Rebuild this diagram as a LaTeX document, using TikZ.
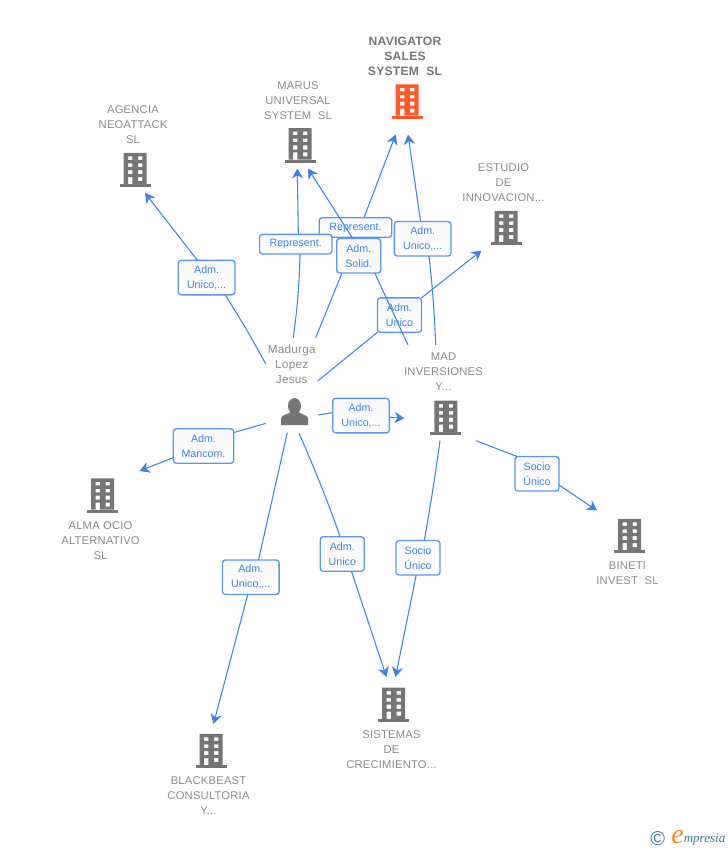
\documentclass[tikz,border=0pt]{standalone}
\usepackage{fontspec}
\setmainfont{Liberation Sans}
\newfontfamily\seriffont{Liberation Serif}
\newfontfamily\namefont[LetterSpace=2]{Liberation Sans}
\usetikzlibrary{arrows.meta,backgrounds}
\definecolor{linkblue}{HTML}{3F84E0}
\definecolor{boxblue}{HTML}{5C97E8}
\definecolor{iconGray}{HTML}{757575}
\definecolor{iconOrange}{HTML}{FF5A2C}
\definecolor{nameGray}{HTML}{8A8A8A}
\definecolor{logoBlue}{HTML}{3B7A93}
\definecolor{logoOrange}{HTML}{F58A1F}
\tikzset{
  link/.style={draw=linkblue, line width=0.8pt},
  linktip/.style={-{Stealth[length=7.5pt,width=8.5pt,inset=2.4pt]}},
  lbl/.style={draw=boxblue, line width=1pt, rounded corners=2.2pt, top color=black!3, bottom color=white,
    text=linkblue, font=\fontsize{8}{11.25}\selectfont, align=center, inner sep=0pt, outer sep=0pt, minimum height=25.9pt},
  lblone/.style={lbl, minimum height=14.7pt, minimum width=54.4pt},
  cname/.style={text=nameGray, font=\fontsize{8.4}{11.25}\namefont, align=center, inner sep=0pt},
  building/.style={minimum width=24pt, minimum height=27pt, inner sep=0pt, outer sep=0pt,
    path picture={
      \fill[#1, even odd rule] (-11.5,-17.2) rectangle (11.5,14.2)
        (-7,-13.6) rectangle (-2.6,-10.1) (3,-13.6) rectangle (7.4,-10.1)
        (-7,-6.7) rectangle (-2.6,-3.1) (3,-6.7) rectangle (7.4,-3.1)
        (-7,0) rectangle (-2.6,4.2) (3,0) rectangle (7.4,4.2)
        (-7,7) rectangle (-2.6,14.2) (3,7) rectangle (7.4,11);
      \fill[#1] (-15.5,14.2) rectangle (15.5,17.2);
    }},
  person/.style={minimum width=22pt, minimum height=22pt, inner sep=0pt, outer sep=0pt,
    path picture={
      \fill[iconGray] (0,-5.5) ellipse (6.5 and 8);
      \fill[iconGray] (-13.5,13.5) -- (-13.5,7) .. controls (-13.5,3.5) and (-7,3) .. (-4,0.5)
        -- (4,0.5) .. controls (7,3) and (13.5,3.5) .. (13.5,7) -- (13.5,13.5) -- cycle;
    }}
}
\begin{document}
\begin{tikzpicture}[x=0.75pt, y=-0.75pt]
  \useasboundingbox (0,0) rectangle (728,850);
  \node[building=iconOrange] (navigator) at (407,101.5) {};
  \node[building=iconGray] (marus) at (300,145.3) {};
  \node[building=iconGray] (agencia) at (135,170) {};
  \node[building=iconGray] (estudio) at (506,228) {};
  \node[building=iconGray] (mad) at (445.8,417.7) {};
  \node[building=iconGray] (alma) at (102.5,495.5) {};
  \node[building=iconGray] (bineti) at (629.5,536) {};
  \node[building=iconGray] (blackbeast) at (211,751) {};
  \node[building=iconGray] (sistemas) at (393.7,704.7) {};
  \node[person] (jesus) at (294.5,411.5) {};

  \node[cname, font=\fontsize{9.1}{11.25}\namefont\bfseries, text=iconGray] (navigatorname) at (405,56.3) {NAVIGATOR\\SALES\\SYSTEM\ \ SL};
  \node[cname] (marusname) at (298,100.2) {MARUS\\UNIVERSAL\\SYSTEM\ \ SL};
  \node[cname] (agencianame) at (133,124.7) {AGENCIA\\NEOATTACK\\SL};
  \node[cname] (estudioname) at (503.5,182.5) {ESTUDIO\\DE\\INNOVACION...};
  \node[cname, font=\fontsize{8.8}{11.25}\namefont] (jesusname) at (291.7,364) {Madurga\\Lopez\\Jesus};
  \node[cname] (madname) at (443.5,371.5) {MAD\\INVERSIONES\\Y...};
  \node[cname] (almaname) at (100.5,540.5) {ALMA OCIO\\ALTERNATIVO\\SL};
  \node[cname] (binetiname) at (627.5,573) {BINETI\\INVEST\ \ SL};
  \node[cname] (blackbeastname) at (208.5,795.5) {BLACKBEAST\\CONSULTORIA\\Y...};
  \node[cname] (sistemasname) at (391.5,749.5) {SISTEMAS\\DE\\CRECIMIENTO...};

  \node[lblone] (navrep) at (355.5,227.5) {Represent.};
  \node[lblone] (marusrep) at (295.7,244.2) {Represent.};
  \node[lbl, minimum width=33pt] (marussolid) at (358.7,255.8) {Adm.\\Solid.};
  \node[lbl, minimum width=42.5pt] (navunico) at (422.7,238.8) {Adm.\\Unico,...};
  \node[lbl, minimum width=33pt] (estudiounico) at (399.5,315.1) {Adm.\\Unico};
  \node[lbl, minimum width=42.5pt] (agenciaunico) at (206.6,277.6) {Adm.\\Unico,...};
  \node[lbl, minimum width=42.5pt] (madunico) at (361,415.6) {Adm.\\Unico,...};
  \node[lbl, minimum width=45.3pt] (almamancom) at (203.5,446) {Adm.\\Mancom.};
  \node[lbl, minimum width=42.5pt] (blackunico) at (250.8,577.2) {Adm.\\Unico,...};
  \node[lbl, minimum width=33pt] (sistunico) at (342.3,554) {Adm.\\Unico};
  \node[lbl, minimum width=33pt] (sistsocio) at (418,557.8) {Socio\\Único};
  \node[lbl, minimum width=33pt] (binetisocio) at (537,473.8) {Socio\\Único};

  \coordinate (agenciafrom) at (265.7,364);
  \coordinate (agenciato) at (145,193);
  \coordinate (marusfrom) at (293.3,337.7);
  \coordinate (marusto) at (297.3,168.5);
  \coordinate (navfrom) at (315.7,337.7);
  \coordinate (navto) at (395.7,134.5);
  \coordinate (solidfrom) at (408,345);
  \coordinate (solidto) at (308,168.5);
  \coordinate (unicofrom) at (435.7,345);
  \coordinate (unicoto) at (408,134.5);
  \coordinate (estudiofrom) at (317.7,381);
  \coordinate (estudioto) at (481.5,250.5);
  \coordinate (madfrom) at (318.3,415);
  \coordinate (madto) at (404.5,418.3);
  \coordinate (almafrom) at (266,423.3);
  \coordinate (almato) at (139.5,471);
  \coordinate (blackfrom) at (287.3,432.7);
  \coordinate (blackto) at (213.5,724);
  \coordinate (sistfrom) at (299,433.3);
  \coordinate (sistto) at (386.5,677);
  \coordinate (sociofrom) at (440,440.7);
  \coordinate (socioto) at (395.5,677);
  \coordinate (binetifrom) at (476,440.7);
  \coordinate (binetito) at (597,510.5);

  \begin{pgfonlayer}{background}
    \path[link] (navfrom) -- (navrep.-84);
    \path[link, linktip] (navrep.49) -- (navto);
  \end{pgfonlayer}
  \path[link] (agenciafrom) to[bend right=2] (agenciaunico.-43);
  \path[link, linktip] (agenciaunico.118) -- (agenciato);
  \path[link] (marusfrom) to[bend right=3] (marusrep.-66);
  \path[link, linktip] (marusrep.75) -- (marusto);
  \path[link] (solidfrom) -- (marussolid.-47);
  \path[link, linktip] (marussolid.109) -- (solidto);
  \path[link] (unicofrom) to[bend right=2] (navunico.-70);
  \path[link, linktip] (navunico.97) -- (unicoto);
  \path[link] (estudiofrom) -- (estudiounico.-142);
  \path[link, linktip] (estudiounico.38) -- (estudioto);
  \path[link] (madfrom) -- (madunico.174);
  \path[link, linktip] (madunico.-3) -- (madto);
  \path[link] (almafrom) -- (almamancom.24);
  \path[link, linktip] (almamancom.201) -- (almato);
  \path[link] (blackfrom) -- (blackunico.66);
  \path[link, linktip] (blackunico.-100) -- (blackto);
  \path[link] (sistfrom) to[bend left=2] (sistunico.97);
  \path[link, linktip] (sistunico.-62) -- (sistto);
  \path[link] (sociofrom) to[bend left=1] (sistsocio.70);
  \path[link, linktip] (sistsocio.-96) -- (socioto);
  \path[link] (binetifrom) -- (binetisocio.139);
  \path[link, linktip] (binetisocio.-27) -- (binetito);

  \node[text=logoBlue, inner sep=0pt, font=\fontsize{15}{15}\selectfont] (logocopy) at (657.7,839) {©};
  \node[text=logoOrange, inner sep=0pt, font=\fontsize{21}{21}\seriffont\itshape] (logoe) at (677.5,837) {e};
  \node[text=logoBlue, inner sep=0pt, anchor=base west, font=\fontsize{9.8}{10}\seriffont\itshape] (logotext) at (683.5,842.7) {mpresia};
\end{tikzpicture}
\end{document}
